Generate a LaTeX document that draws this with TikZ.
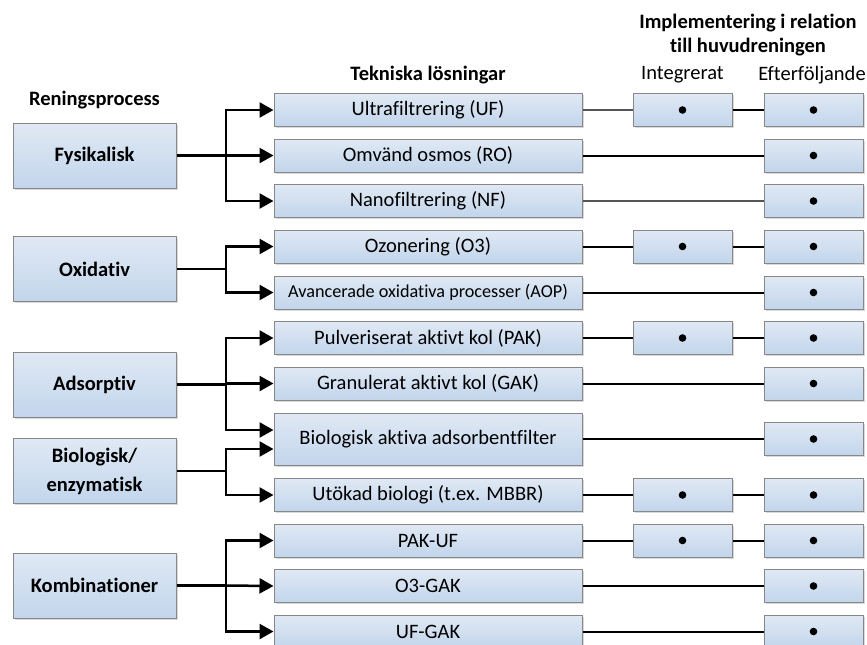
\documentclass[tikz,border=0pt]{standalone}
\usepackage{fontspec}
\setmainfont[RawFeature={-liga;-clig;-dlig}]{Carlito}
\usetikzlibrary{shadows,arrows.meta,calc}

\definecolor{boxtop}{RGB}{224,233,244}
\definecolor{boxbot}{RGB}{194,213,236}
\definecolor{boxline}{RGB}{135,135,135}
\definecolor{greyline}{RGB}{85,85,85}

\begin{document}
\begin{tikzpicture}[x=0.5pt,y=-0.5pt,
  box/.style={draw=boxline, line width=0.5pt, top color=boxtop, bottom color=boxbot,
    inner sep=0pt, align=center,
    drop shadow={shadow xshift=0.9pt, shadow yshift=-0.9pt, fill=black, opacity=0.15}},
  procbox/.style={box, minimum width=81.5pt, minimum height=32.5pt,
    font=\bfseries\fontsize{10.25}{14.5}\selectfont},
  techbox/.style={box, minimum width=154pt, minimum height=16.5pt,
    font=\fontsize{10.25}{12.5}\selectfont},
  markbox/.style={box, minimum width=49.5pt, minimum height=16.5pt},
  hdr/.style={font=\bfseries\fontsize{10.25}{12}\selectfont, inner sep=0pt, align=center},
  colhdr/.style={font=\fontsize{10.25}{12}\selectfont, inner sep=0pt},
  conn/.style={line width=1.25pt, line join=miter},
  arr/.style={conn, -{Triangle[length=7pt,width=7.5pt]}},
  rline/.style={line width=1pt, black},
  gline/.style={line width=1pt, greyline},
  dotmark/.style={fill=black}
]
\useasboundingbox (0,0) rectangle (867,644);
\clip (0,0) rectangle (867,644);

% column headings
\node[hdr] (hrp) at (94.5,100) {Reningsprocess};
\node[hdr] (htl) at (428,75) {Tekniska lösningar};
\node[hdr] (himp) at (748,35) {Implementering i relation\\till huvudreningen};
\node[colhdr] (hint) at (682.5,75) {Integrerat};
\node[colhdr] (heft) at (812,75) {Efterföljande};

% treatment processes
\node[procbox] (fys) at (94.5,155.5) {Fysikalisk};
\node[procbox] (oxi) at (94.5,269) {Oxidativ};
\node[procbox] (ads) at (94.5,384.5) {Adsorptiv};
\node[procbox] (bio) at (94.5,471) {Biologisk/\\enzymatisk};
\node[procbox] (kom) at (94.5,585.5) {Kombinationer};

% technical solutions
\node[techbox] (uf)   at (428,110)   {Ultrafiltrering (UF)};
\node[techbox] (ro)   at (428,155.5) {Omvänd osmos (RO)};
\node[techbox] (nf)   at (428,201)   {Nanofiltrering (NF)};
\node[techbox] (oz)   at (428,246.5) {Ozonering (O3)};
\node[techbox, font=\fontsize{9.1}{11}\selectfont] (aop) at (428,292.5) {Avancerade oxidativa processer (AOP)};
\node[techbox] (pak)  at (428,338)   {Pulveriserat aktivt kol (PAK)};
\node[techbox] (gak)  at (428,383.5) {Granulerat aktivt kol (GAK)};
\node[techbox, minimum height=26pt] (baf) at (428,439) {Biologisk aktiva adsorbentfilter};
\node[techbox] (utb)  at (428,495)   {Utökad biologi (t.ex. MBBR)};
\node[techbox] (pakuf) at (428,540.5) {PAK-UF};
\node[techbox] (ogak) at (428,586)   {O3-GAK};
\node[techbox] (ufgak) at (428,631.5) {UF-GAK};

% connectors from processes to solutions
\coordinate (jfys) at (226,155.5);
\coordinate (joxi) at (226,269);
\coordinate (jads) at (226,384.5);
\coordinate (jbio) at (226,471);
\coordinate (jkom) at (226,585.5);
\coordinate (bafa) at ($(baf.west)+(0,-9)$);
\coordinate (bafb) at ($(baf.west)+(0,10)$);

\draw[conn] (fys.east) -- (jfys);
\draw[arr] (jfys) |- (uf.west);
\draw[arr] (jfys) -- (ro.west);
\draw[arr] (jfys) |- (nf.west);

\draw[conn] (oxi.east) -- (joxi);
\draw[arr] (joxi) |- (oz.west);
\draw[arr] (joxi) |- (aop.west);

\draw[conn] (ads.east) -- (jads);
\draw[arr] (jads) |- (pak.west);
\draw[arr] (jads) |- (gak.west);
\draw[arr] (jads) |- (bafa);

\draw[conn] (bio.east) -- (jbio);
\draw[arr] (jbio) |- (bafb);
\draw[arr] (jbio) |- (utb.west);

\draw[conn] (kom.east) -- (jkom);
\draw[arr] (jkom) |- (pakuf.west);
\draw[arr] (jkom) -- (ogak.west);
\draw[arr] (jkom) |- (ufgak.west);

% links to the implementation columns (drawn first, boxes on top)
\draw[gline] (uf.east) -- (682.5,110);
\draw[rline] (682.5,110) -- (813.5,110);
\draw[rline] (ro.east) -- (813.5,155.5);
\draw[gline] (nf.east) -- (813.5,201);
\draw[rline] (oz.east) -- (813.5,246.5);
\draw[rline] (aop.east) -- (813.5,292.5);
\draw[rline] (pak.east) -- (813.5,338);
\draw[rline] (gak.east) -- (813.5,383.5);
\draw[rline] (baf.east) -- (813.5,439);
\draw[rline] (utb.east) -- (813.5,495);
\draw[rline] (pakuf.east) -- (813.5,540.5);
\draw[rline] (ogak.east) -- (813.5,586);
\draw[rline] (ufgak.east) -- (813.5,631.5);

% integrated implementation
\foreach \n/\y in {ufi/110, ozi/246.5, paki/338, utbi/495, pakufi/540.5}{
  \node[markbox] (\n) at (682.5,\y) {};
  \fill[dotmark] (\n.center) circle (3.8);
}
% subsequent implementation
\foreach \n/\y in {ufe/110, roe/155.5, nfe/201, oze/246.5, aope/292.5, pake/338,
                   gake/383.5, bafe/439, utbe/495, pakufe/540.5, ogake/586, ufgake/631.5}{
  \node[markbox] (\n) at (813.5,\y) {};
  \fill[dotmark] (\n.center) circle (3.8);
}
\end{tikzpicture}
\end{document}
